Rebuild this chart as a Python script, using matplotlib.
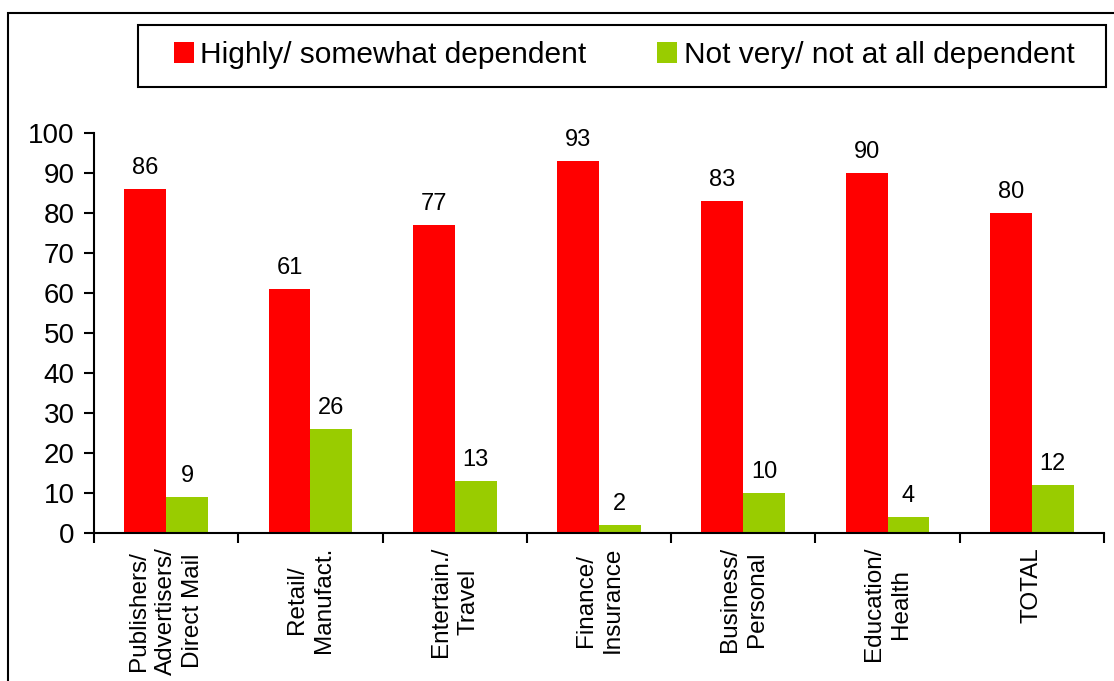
import matplotlib
matplotlib.use("Agg")
import matplotlib.pyplot as plt
from matplotlib.patches import Rectangle
import numpy as np

categories = ["Publishers/\nAdvertisers/\nDirect Mail", "Retail/\nManufact.", "Entertain./\nTravel",
              "Finance/\nInsurance", "Business/\nPersonal", "Education/\nHealth", "TOTAL"]
dependent = [86, 61, 77, 93, 83, 90, 80]
not_dependent = [9, 26, 13, 2, 10, 4, 12]
series_names = ["Highly/ somewhat dependent", "Not very/ not at all dependent"]
colors = ["#FF0000", "#99CC00"]
yticks = [0, 10, 20, 30, 40, 50, 60, 70, 80, 90, 100]

plt.rcParams['font.family'] = ['Liberation Sans', 'DejaVu Sans']

W, H = 1114, 681
fig = plt.figure(figsize=(W / 100, H / 100), dpi=100)
fig.patch.set_facecolor("white")

x0, x1 = 94, 1104
y0, y1 = 533, 133
ax = fig.add_axes([x0 / W, 1 - y0 / H, (x1 - x0) / W, (y0 - y1) / H])

x = np.arange(len(categories))
bw = 0.29
b1 = ax.bar(x - bw / 2, dependent, bw, color=colors[0], label=series_names[0])
b2 = ax.bar(x + bw / 2, not_dependent, bw, color=colors[1], label=series_names[1])
ax.bar_label(b1, padding=7.5, fontsize=17)
ax.bar_label(b2, padding=7.5, fontsize=17)

ax.set_xlim(-0.5, len(categories) - 0.5)
ax.set_ylim(0, 100)
ax.set_yticks(yticks)
ax.tick_params(axis='y', labelsize=20, length=7, width=1.5, direction='out', pad=7)

ax.set_xticks(np.arange(len(categories) + 1) - 0.5)
ax.set_xticklabels([])
ax.tick_params(axis='x', which='major', length=7, width=1.5, direction='out')
ax.set_xticks(x, minor=True)
ax.set_xticklabels(categories, minor=True, rotation=90, fontsize=17.5, va='top', ha='center',
                   multialignment='center', linespacing=1.28)
ax.tick_params(axis='x', which='minor', length=0, pad=10)

for s in ['top', 'right']:
    ax.spines[s].set_visible(False)
for s in ['left', 'bottom']:
    ax.spines[s].set_linewidth(1.5)

# legend
leg = fig.legend(handles=[b1, b2], labels=series_names, loc='center', ncol=2,
                 bbox_to_anchor=(624 / W, 1 - 55 / H), bbox_transform=fig.transFigure,
                 frameon=False, fontsize=21.5, handlelength=0.68, handleheight=0.68,
                 handletextpad=0.22, columnspacing=2.35, borderpad=0)
fig.add_artist(Rectangle((138 / W, 1 - 87 / H), (1106 - 138) / W, (87 - 25) / H,
                         transform=fig.transFigure, fill=False, edgecolor='black', linewidth=1.5))
# outer border
fig.add_artist(Rectangle((8 / W, -0.1), 1.2, (1 - 13 / H) + 0.1,
                         transform=fig.transFigure, fill=False, edgecolor='black', linewidth=1.5))

fig.savefig("out.png", dpi=100)
